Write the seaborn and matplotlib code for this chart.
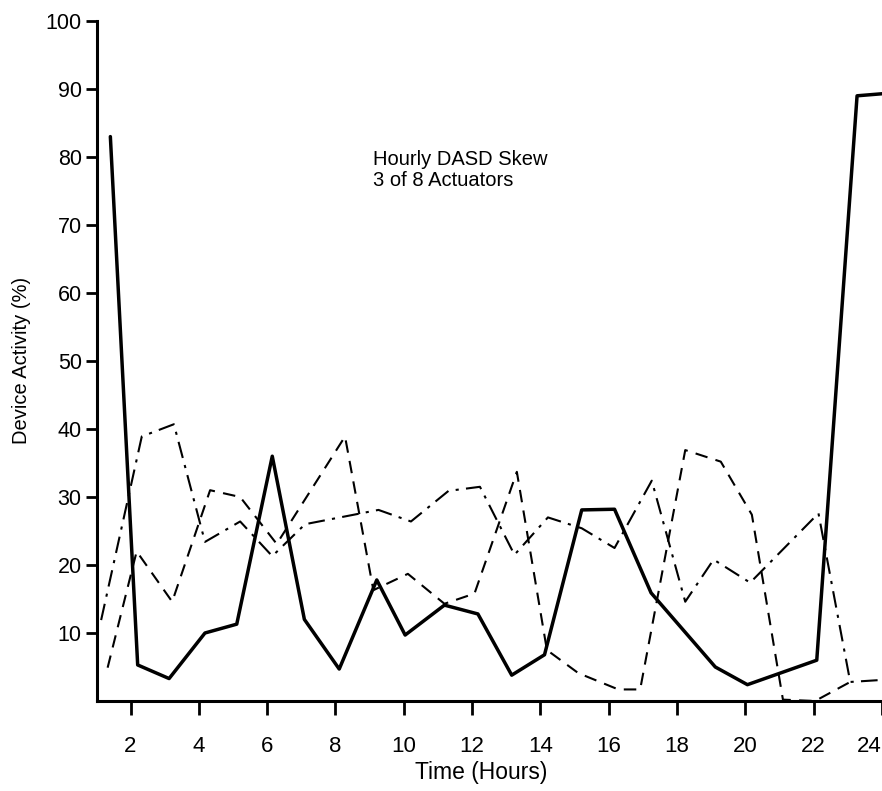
import matplotlib
matplotlib.use("Agg")
import matplotlib.pyplot as plt
import seaborn as sns

# ---- data ----
solid_hours = [1.41, 2.21, 3.13, 4.18, 5.11, 6.15, 7.09, 8.11, 9.21, 10.04, 11.19, 12.17,
               13.16, 14.12, 15.21, 16.17, 17.24, 19.12, 20.06, 22.09, 23.27, 24.0]
solid_vals = [83.0, 5.3, 3.3, 10.0, 11.3, 36.0, 12.0, 4.7, 17.8, 9.7, 14.1, 12.8,
              3.8, 6.8, 28.1, 28.2, 15.9, 5.0, 2.4, 6.0, 89.0, 89.3]

dashdot_hours = [1.14, 2.33, 3.27, 4.18, 5.21, 6.15, 7.11, 9.26, 10.21, 11.31, 12.23, 13.24,
                 14.22, 15.21, 16.17, 17.26, 18.24, 19.07, 20.14, 22.14, 23.07, 24.0]
dashdot_vals = [11.9, 38.9, 40.7, 23.4, 26.4, 21.3, 26.0, 28.1, 26.4, 30.9, 31.5, 21.5,
                27.0, 25.4, 22.5, 32.4, 14.6, 20.8, 17.4, 27.6, 2.8, 3.1]

dashed_hours = [1.33, 2.18, 3.22, 4.33, 5.21, 6.28, 8.28, 9.11, 10.12, 11.19, 12.07, 13.31,
                14.19, 15.11, 16.28, 16.92, 18.24, 19.28, 20.19, 21.1, 22.04, 23.07]
dashed_vals = [4.9, 22.0, 14.6, 31.0, 30.0, 23.1, 38.9, 16.3, 18.7, 14.3, 15.8, 33.7,
               7.5, 4.1, 1.7, 1.7, 36.9, 35.2, 27.4, 0.2, 0.0, 2.8]

x_ticks = [2, 4, 6, 8, 10, 12, 14, 16, 18, 20, 22, 24]
y_ticks = [10, 20, 30, 40, 50, 60, 70, 80, 90, 100]

annotation = "Hourly DASD Skew\n3 of 8 Actuators"
x_label = "Time (Hours)"
y_label = "Device Activity (%)"

# ---- style ----
sns.set_style("ticks")
plt.rcParams['font.family'] = ['Liberation Sans', 'DejaVu Sans']
plt.rcParams['text.color'] = 'black'
plt.rcParams['xtick.color'] = 'black'
plt.rcParams['ytick.color'] = 'black'
plt.rcParams['xtick.labelcolor'] = 'black'
plt.rcParams['ytick.labelcolor'] = 'black'

fig = plt.figure(figsize=(8.82, 7.91), dpi=100)
ax = fig.add_axes([97 / 882, 1 - 701 / 791, 1 - 97 / 882, (701 - 21) / 791])

sns.lineplot(x=dashed_hours, y=dashed_vals, ax=ax, color="black", linewidth=1.5, sort=False)
ax.lines[-1].set_linestyle((0, (6, 4)))
sns.lineplot(x=dashdot_hours, y=dashdot_vals, ax=ax, color="black", linewidth=1.5, sort=False)
ax.lines[-1].set_linestyle((0, (8, 3.5, 1.5, 3.5)))
sns.lineplot(x=solid_hours, y=solid_vals, ax=ax, color="black", linewidth=2.5, sort=False)

ax.set_xlim(2 - 33.5 / 34.15, 24.0)
ax.set_ylim(0, 100)
ax.set_xticks(x_ticks)
ax.set_yticks(y_ticks)
ax.set_xticklabels([str(t) for t in x_ticks], fontsize=16)
ax.set_yticklabels([str(t) for t in y_ticks], fontsize=15.5)
ax.tick_params(axis="both", direction="out", length=8, width=2, pad=3)
ax.tick_params(axis="x", length=10, pad=15)
ax.get_xticklabels()[-1].set_horizontalalignment("right")

for side in ["top", "right"]:
    ax.spines[side].set_visible(False)
for side in ["left", "bottom"]:
    ax.spines[side].set_linewidth(2.2)
    ax.spines[side].set_color("black")
ax.set_xlabel("")
ax.set_ylabel("")
ax.grid(False)

ax.text(9.1, 81.0, annotation, fontsize=14.5, va="top", ha="left", linespacing=1.1,
        color="black")

fig.text(22 / 882, 1 - 360 / 791, y_label, rotation=90, fontsize=14.5,
         ha="center", va="center", color="black")
fig.text(481 / 882, 1 - 773 / 791, x_label, fontsize=16.5, ha="center", va="center",
         color="black")

fig.savefig("out.png", dpi=100)
